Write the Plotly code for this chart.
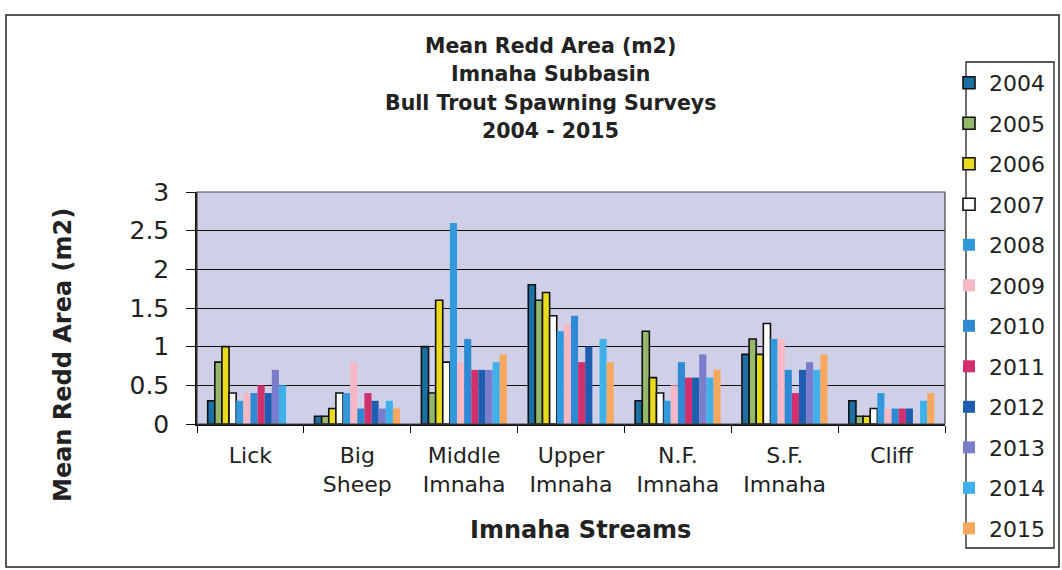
import plotly.graph_objects as go

streams = ["Lick", "Big<br>Sheep", "Middle<br>Imnaha", "Upper<br>Imnaha", "N.F.<br>Imnaha", "S.F.<br>Imnaha", "Cliff"]
years = ["2004", "2005", "2006", "2007", "2008", "2009", "2010", "2011", "2012", "2013", "2014", "2015"]

v2004 = [0.3, 0.1, 1.0, 1.8, 0.3, 0.9, 0.3]
v2005 = [0.8, 0.1, 0.4, 1.6, 1.2, 1.1, 0.1]
v2006 = [1.0, 0.2, 1.6, 1.7, 0.6, 0.9, 0.1]
v2007 = [0.4, 0.4, 0.8, 1.4, 0.4, 1.3, 0.2]
v2008 = [0.3, 0.4, 2.6, 1.2, 0.3, 1.1, 0.4]
v2009 = [0.4, 0.8, 0.8, 1.3, 0.5, 1.1, 0.2]
v2010 = [0.4, 0.2, 1.1, 1.4, 0.8, 0.7, 0.2]
v2011 = [0.5, 0.4, 0.7, 0.8, 0.6, 0.4, 0.2]
v2012 = [0.4, 0.3, 0.7, 1.0, 0.6, 0.7, 0.2]
v2013 = [0.7, 0.2, 0.7, None, 0.9, 0.8, None]
v2014 = [0.5, 0.3, 0.8, 1.1, 0.6, 0.7, 0.3]
v2015 = [None, 0.2, 0.9, 0.8, 0.7, 0.9, 0.4]

title_lines = ["Mean Redd Area (m2)", "Imnaha Subbasin", "Bull Trout Spawning Surveys", "2004 - 2015"]

values = [v2004, v2005, v2006, v2007, v2008, v2009, v2010, v2011, v2012, v2013, v2014, v2015]
colors = ["#1b6fa3", "#95b86b", "#e8da1c", "#ffffff", "#3399dd", "#f5b8c4",
          "#2f8ad6", "#d2306c", "#1f5db0", "#7a7ccc", "#3fb0ea", "#f7a85e"]
outlined = [True, True, True, True] + [False] * 8

W, H = 1062, 570
L, R, T, B = 197, 945, 192, 424

fig = go.Figure()
for yr, vals, col, ol in zip(years, values, colors, outlined):
    fig.add_trace(go.Bar(
        name=yr, x=streams, y=vals, legendgroup=yr,
        marker=dict(color=col, line=dict(color="#111111" if ol else col, width=1.6 if ol else 0)),
    ))

def px_x(px):
    return (px - L) / (R - L)

def px_y(py):
    return (B - py) / (B - T)

font = "DejaVu Sans, Arial, sans-serif"
txt = "#222222"

title_y = [46, 74, 103, 131]
annotations = []
for line, yy in zip(title_lines, title_y):
    annotations.append(dict(
        text="<b>" + line + "</b>", xref="paper", yref="paper",
        x=px_x(550), y=px_y(yy), xanchor="center", yanchor="middle",
        showarrow=False, font=dict(size=20.5, family=font, color=txt)))
annotations += [
    dict(text="<b>Imnaha Streams</b>", xref="paper", yref="paper",
         x=px_x(580), y=px_y(530), xanchor="center", yanchor="middle",
         showarrow=False, font=dict(size=24, family=font, color=txt)),
    dict(text="<b>Mean Redd Area (m2)</b>", xref="paper", yref="paper",
         x=px_x(63), y=px_y(355), xanchor="center", yanchor="middle",
         textangle=-90, showarrow=False,
         font=dict(size=24, family=font, color=txt)),
]

fig.update_layout(
    width=W, height=H,
    margin=dict(l=L, r=W - R, t=T, b=H - B, pad=0, autoexpand=False),
    paper_bgcolor="white",
    plot_bgcolor="#cfd0e8",
    barmode="group", bargap=0.2, bargroupgap=0,
    font=dict(family=font, color=txt),
    showlegend=True,
    legend=dict(
        x=px_x(949), y=px_y(62), xanchor="left", yanchor="top",
        bgcolor="rgba(0,0,0,0)", borderwidth=0,
        font=dict(size=22, family=font, color=txt),
        tracegroupgap=8.9, itemwidth=30, traceorder="grouped",
        maxheight=520,
    ),
    xaxis=dict(
        showline=True, linecolor="#111111", linewidth=1.5,
        ticks="outside", ticklen=7, tickcolor="#111111", tickson="boundaries",
        tickfont=dict(size=22, family=font, color=txt),
        ticklabelstandoff=11,
        mirror=False,
    ),
    yaxis=dict(
        range=[0, 3], tickvals=[0, 0.5, 1, 1.5, 2, 2.5, 3],
        ticktext=["0", "0.5", "1", "1.5", "2", "2.5", "3"],
        showgrid=True, gridcolor="#111111", gridwidth=1.2,
        showline=True, linecolor="#111111", linewidth=1.5,
        ticks="outside", ticklen=9, tickcolor="#111111",
        tickfont=dict(size=25, family=font, color=txt),
        ticklabelstandoff=12,
        zeroline=False,
    ),
    annotations=annotations,
    shapes=[
        dict(type="rect", xref="paper", yref="paper",
             x0=px_x(6), x1=px_x(1059), y0=px_y(567), y1=px_y(15),
             line=dict(color="#222222", width=1.5), fillcolor="rgba(0,0,0,0)", layer="below"),
        dict(type="rect", xref="paper", yref="paper",
             x0=px_x(966), x1=px_x(1054), y0=px_y(548), y1=px_y(62),
             line=dict(color="#222222", width=1.3), fillcolor="white", layer="below"),
        dict(type="rect", xref="paper", yref="paper", x0=0, x1=1, y0=0, y1=1,
             line=dict(color="#444444", width=1.2), fillcolor="rgba(0,0,0,0)"),
    ],
)

fig.write_html("out.html", config={"displayModeBar": False},
               post_script="document.body.style.margin='0';document.body.style.overflow='hidden';")
